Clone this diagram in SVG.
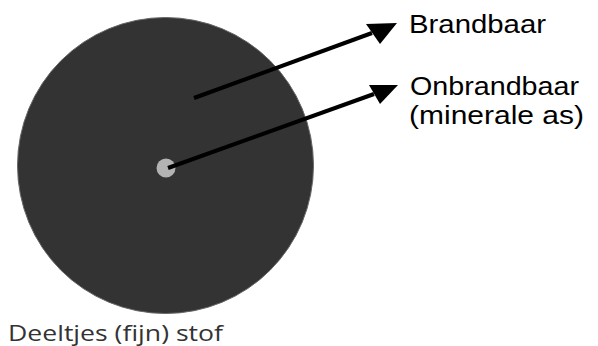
<svg xmlns="http://www.w3.org/2000/svg" width="598" height="346" viewBox="0 0 598 346">
<defs>
<style>
.lbl{font-family:"Liberation Sans",Arial,sans-serif;font-size:25px;fill:#000}
.cap{font-family:"Open Sans","Noto Sans",sans-serif;font-size:21px;fill:#333}
.conn{stroke:#000;stroke-width:4;fill:none}
.head{fill:#000}
</style>
</defs>
<rect width="598" height="346" fill="#fff"/>
<g id="particle">
<circle cx="165.5" cy="165.5" r="148" fill="#333" stroke="#666" stroke-width="1"/>
</g>
<g id="core">
<circle cx="166" cy="168" r="9.5" fill="#b3b3b3"/>
</g>
<g id="connectors">
<line class="conn" x1="194" y1="98" x2="372" y2="33"/>
<polygon class="head" points="397,23 366,24 380,44"/>
<line class="conn" x1="168" y1="168" x2="374" y2="94"/>
<polygon class="head" points="398,85 369,85 380,104"/>
</g>
<g id="label-brandbaar">
<text class="lbl" x="409" y="33" textLength="137" lengthAdjust="spacingAndGlyphs">Brandbaar</text>
</g>
<g id="label-onbrandbaar">
<text class="lbl" x="410" y="95" textLength="169" lengthAdjust="spacingAndGlyphs">Onbrandbaar</text>
<text class="lbl" x="409" y="124" textLength="175" lengthAdjust="spacingAndGlyphs">(minerale as)</text>
</g>
<g id="caption">
<text class="cap" x="8" y="341" textLength="215" lengthAdjust="spacingAndGlyphs">Deeltjes (fijn) stof</text>
</g>
</svg>
